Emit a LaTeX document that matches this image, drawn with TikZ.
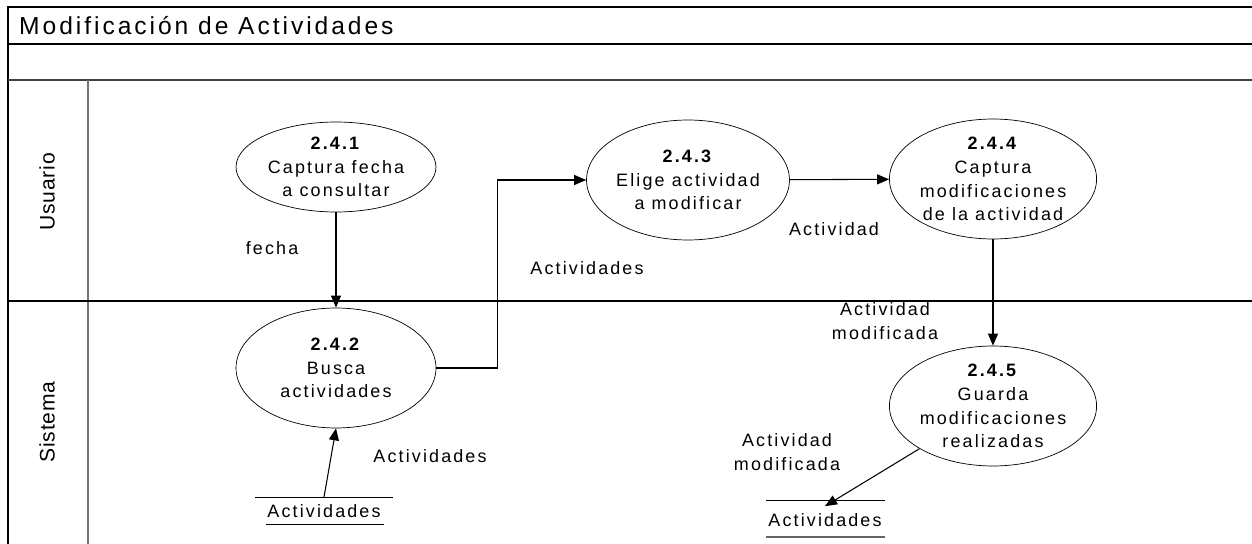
\documentclass[tikz,border=0pt]{standalone}
\usepackage{fontspec}
\setmainfont{Liberation Sans}[LetterSpace=12]
\newfontfamily\lanefont{Liberation Sans}[LetterSpace=4]
\usetikzlibrary{shapes.geometric,arrows.meta}

\tikzset{
  proc/.style={draw, ellipse, thin, inner sep=0pt, align=center,
    font=\fontsize{10.2}{13.5}\selectfont},
  flowlabel/.style={align=center, font=\fontsize{10.2}{13.5}\selectfont},
  store/.style={inner sep=0pt, minimum height=0.54cm, font=\fontsize{10.2}{13.5}\selectfont},
  flow/.style={-{Triangle[length=2.4mm,width=2mm]}, semithick},
  frame/.style={line width=0.8pt},
  lane/.style={rotate=90, font=\lanefont\fontsize{12}{14}\selectfont}
}

\begin{document}
\begin{tikzpicture}[x=0.02cm, y=-0.02cm]
			
			\useasboundingbox (0,0) rectangle (1252,544);
			
			% frame and lanes
			\draw[frame] (8,544) -- (8,7) -- (1252,7);
			\draw[frame] (8,44) -- (1252,44);
			\draw[frame, black!75] (8,80) -- (1252,80);
			\draw[semithick, black!55] (88,80) -- (88,544);
			\draw[semithick] (8,301) -- (1252,301);
			\node[anchor=west, font=\fontsize{14}{16}\selectfont] (title) at (13,26) {Modificación de Actividades};
			\node[lane] (usuario) at (47,192) {Usuario};
			\node[lane] (sistema) at (47,422) {Sistema};
			
			% processes
			\node[proc, minimum width=4cm, minimum height=1.8cm] (p241) at (336,167) {\textbf{2.4.1}\\Captura fecha\\a consultar};
			\node[proc, minimum width=4cm, minimum height=2.4cm] (p242) at (336,368) {\textbf{2.4.2}\\Busca\\actividades};
			\node[proc, minimum width=3.96cm, minimum height=2.4cm] (p243) at (688,180) {\textbf{2.4.3}\\Elige actividad\\a modificar};
			\node[proc, minimum width=3.96cm, minimum height=2.4cm] (p244) at (993,179) {\textbf{2.4.4}\\Captura\\modificaciones\\de la actividad};
			\node[proc, minimum width=3.92cm, minimum height=2.4cm] (p245) at (993,406) {\textbf{2.4.5}\\Guarda\\modificaciones\\realizadas};
			
			% data stores
			\node[store] (st1) at (324,511) {Actividades};
			\draw (255,497) -- (393,497);
			\draw (266,524) -- (384,524);
			\node[store] (st2) at (825,520) {Actividades};
			\draw (766,500) -- (885,500);
			\draw[black!60, semithick] (766,537) -- (885,537);
			
			% flows
			\draw[flow] (p241) -- (p242);
			\draw[flow] (p242.east) -- ++(61,0) |- (p243.west);
			\draw[flow] (p243) -- (p244);
			\draw[flow] (p244) -- (p245);
			\draw[flow] (st1.north) -- (p242.south);
			\draw[flow] (p245.south west) -- (st2.north);
			
			% flow labels
			\node[flowlabel] (lfecha) at (272,248) {fecha};
			\node[flowlabel] (lact1) at (587,268) {Actividades};
			\node[flowlabel] (lact2) at (834,229) {Actividad};
			\node[flowlabel] (lact3) at (885,321) {Actividad\\modificada};
			\node[flowlabel] (lact4) at (430,456) {Actividades};
			\node[flowlabel] (lact5) at (787,452) {Actividad\\modificada};
			
		\end{tikzpicture}
\end{document}
